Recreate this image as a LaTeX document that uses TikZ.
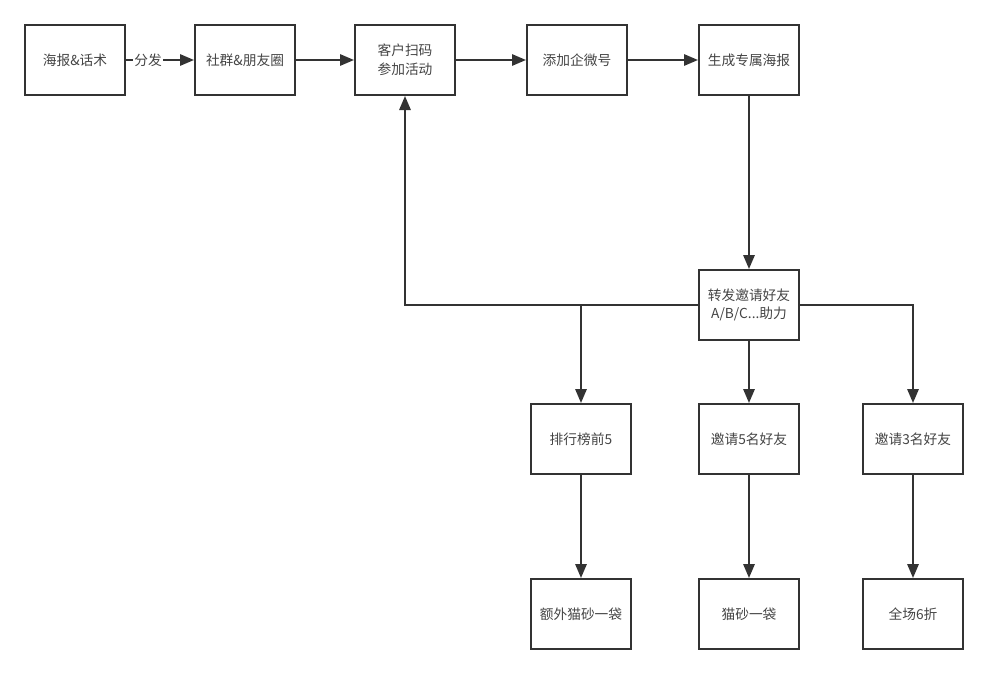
\documentclass[tikz,border=0pt]{standalone}
\usepackage{fontspec}
\newfontfamily\cjk{Noto Sans CJK SC}
\usetikzlibrary{arrows.meta}
\definecolor{ink}{HTML}{333333}
\definecolor{txt}{HTML}{444444}
\tikzset{
  box/.style={draw=ink, line width=1.5pt, minimum width=75pt, minimum height=52.5pt,
    inner sep=2pt, align=center, text=txt, font=\cjk\fontsize{10.3}{14}\selectfont},
  arr/.style={draw=ink, line width=1.5pt, -{Triangle[length=10.5pt,width=8.5pt]}}
}

\begin{document}
\begin{tikzpicture}[x=0.75pt,y=-0.75pt]
\useasboundingbox (0,0) rectangle (988,675);
\node[box] (A) at (75,60) {海报\&话术};
\node[box] (B) at (245,60) {社群\&朋友圈};
\node[box] (C) at (405,60) {客户扫码\\参加活动};
\node[box] (D) at (577,60) {添加企微号};
\node[box] (E) at (749,60) {生成专属海报};
\node[box] (F) at (749,305) {转发邀请好友\\A/B/C...助力};

\node[box] (G) at (581,439) {排行榜前5};
\node[box] (H) at (749,439) {邀请5名好友};
\node[box] (I) at (913,439) {邀请3名好友};

\node[box] (J) at (581,614) {额外猫砂一袋};
\node[box] (K) at (749,614) {猫砂一袋};
\node[box] (L) at (913,614) {全场6折};

\draw[arr] (A) -- node[fill=white, inner sep=1pt, text=txt, font=\cjk\fontsize{10.3}{14}\selectfont, xshift=-9pt] {分发} (B);
\draw[arr] (B) -- (C);
\draw[arr] (C) -- (D);
\draw[arr] (D) -- (E);
\draw[arr] (E) -- (F);

\draw[arr] (F.west) -| (C.south);
\draw[arr] (F.west) -| (G.north);
\draw[arr] (F.south) -- (H.north);
\draw[arr] (F.east) -| (I.north);

\draw[arr] (G) -- (J);
\draw[arr] (H) -- (K);
\draw[arr] (I) -- (L);
\end{tikzpicture}
\end{document}
